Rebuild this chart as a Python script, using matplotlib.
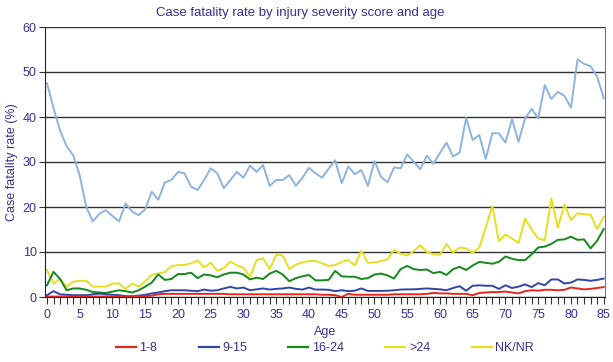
import matplotlib
matplotlib.use("Agg")
from matplotlib import pyplot as plt
from matplotlib.lines import Line2D
from matplotlib.ticker import MultipleLocator

plt.rcParams['font.family'] = ['Liberation Sans', 'DejaVu Sans']

# Case fatality rate (%) by age 0..85
ages = list(range(0, 86))

iss_1_8 = [0.1, 0.1, 0.1, 0.1, 0.1, 0.1, 0.1, 0.1, 0.1, 0.1,
           0.1, 0.1, 0.1, 0.1, 0.1, 0.2, 0.3, 0.6, 0.7, 0.7,
           0.7, 0.7, 0.7, 0.7, 0.7, 0.7, 0.7, 0.7, 0.6, 0.6,
           0.6, 0.6, 0.6, 0.6, 0.6, 0.6, 0.6, 0.6, 0.6, 0.6,
           0.6, 0.6, 0.5, 0.5, 0.4, 0.0, 0.7, 0.5, 0.5, 0.5,
           0.5, 0.5, 0.5, 0.6, 0.6, 0.6, 0.6, 0.6, 0.7, 0.9,
           0.8, 0.8, 0.7, 0.7, 0.7, 0.4, 0.9, 1.0, 1.1, 1.1,
           1.2, 1.0, 0.8, 1.3, 1.5, 1.4, 1.6, 1.6, 1.5, 1.6,
           2.1, 1.9, 1.7, 1.8, 2.0, 2.2]

iss_9_15 = [0.4, 1.3, 0.6, 0.5, 0.4, 0.4, 0.4, 0.6, 0.75, 0.6,
            0.5, 0.4, 0.2, 0.15, 0.3, 0.5, 0.8, 1.0, 1.3, 1.5,
            1.5, 1.5, 1.4, 1.3, 1.65, 1.4, 1.5, 1.9, 2.25, 1.9,
            2.1, 1.5, 1.7, 1.9, 1.65, 1.8, 1.9, 2.1, 1.8, 1.65,
            2.1, 1.65, 1.65, 1.6, 1.3, 1.5, 1.3, 1.4, 1.9, 1.35,
            1.35, 1.35, 1.4, 1.5, 1.65, 1.7, 1.7, 1.8, 1.9, 1.8,
            1.7, 1.5, 2.0, 2.4, 1.4, 2.5, 2.6, 2.5, 2.5, 1.8,
            2.6, 2.0, 2.3, 2.8, 2.2, 3.1, 2.6, 3.9, 3.9, 3.0,
            3.2, 3.9, 3.8, 3.6, 3.8, 4.1]

iss_16_24 = [2.6, 5.6, 4.0, 1.5, 1.9, 1.9, 1.6, 1.1, 1.0, 0.9,
             1.2, 1.5, 1.3, 1.0, 1.5, 2.3, 3.2, 5.0, 3.8, 4.0,
             5.1, 5.1, 5.4, 4.2, 5.0, 4.8, 4.4, 5.0, 5.4, 5.4,
             5.0, 3.9, 4.3, 4.0, 5.2, 5.8, 5.0, 3.5, 4.2, 4.6,
             4.9, 3.7, 3.7, 3.8, 5.8, 4.6, 4.5, 4.5, 4.0, 4.2,
             5.0, 5.2, 4.8, 4.1, 6.2, 6.9, 6.2, 6.0, 6.1, 5.3,
             5.6, 4.9, 6.2, 6.7, 6.0, 7.0, 7.8, 7.6, 7.4, 7.8,
             9.0, 8.5, 8.2, 8.2, 9.5, 11.0, 11.2, 11.8, 12.7, 12.8,
             13.4, 12.7, 12.8, 10.8, 12.5, 15.1]

iss_over_24 = [47.5, 42.0, 37.0, 33.5, 31.5, 27.0, 20.0, 16.8, 18.5, 19.3,
               18.0, 16.8, 20.8, 19.0, 18.2, 19.5, 23.4, 21.6, 25.5, 26.0,
               27.8, 27.5, 24.5, 23.8, 26.0, 28.6, 27.5, 24.2, 26.0, 27.8,
               26.5, 29.2, 27.8, 29.3, 24.7, 26.0, 26.0, 27.1, 24.7, 26.5,
               28.7, 27.5, 26.5, 28.5, 30.4, 25.3, 29.0, 27.3, 28.2, 24.7,
               30.2, 26.7, 25.5, 28.8, 28.6, 31.7, 30.0, 28.4, 31.4, 29.6,
               32.0, 34.3, 31.2, 32.1, 39.8, 34.9, 36.0, 30.7, 36.4, 36.4,
               34.3, 39.5, 34.5, 39.7, 41.8, 39.7, 47.1, 44.0, 45.6, 44.7,
               42.1, 52.8, 51.8, 51.3, 49.0, 44.2]

nk_nr = [6.0, 3.0, 4.0, 2.3, 3.4, 3.6, 3.6, 2.3, 2.3, 2.3,
         3.0, 3.0, 1.8, 3.0, 2.3, 3.5, 4.9, 5.2, 5.5, 6.8,
         7.1, 7.1, 7.5, 8.1, 6.6, 7.6, 5.8, 6.4, 7.9, 7.0,
         6.5, 4.5, 8.2, 8.6, 6.2, 9.4, 9.2, 6.2, 7.2, 7.7,
         8.0, 8.0, 7.5, 6.9, 7.1, 7.8, 8.2, 7.0, 10.3, 7.6,
         7.7, 8.0, 8.4, 10.5, 9.6, 9.2, 10.2, 11.5, 10.0, 9.5,
         9.4, 11.8, 9.9, 11.0, 10.8, 9.8, 11.0, 15.5, 20.2, 12.4,
         13.9, 13.0, 12.0, 17.4, 15.0, 13.0, 12.6, 21.9, 15.4, 20.6,
         17.1, 18.6, 18.4, 18.3, 15.1, 17.8]

legend_labels = ['1-8', '9-15', '16-24', '>24', 'NK/NR']
legend_colors = ['#e5281f', '#3346a8', '#15891c', '#e6e020', '#e6e020']

txt = '#3c2f94'

fig = plt.figure(figsize=(6.13, 3.62), dpi=100)
ax = fig.add_axes([45 / 613, 1 - 297 / 362, 560 / 613, 270 / 362])

ax.plot(ages, iss_over_24, color='#8fb3df', lw=1.4)
ax.plot(ages, nk_nr, color='#e6e020', lw=1.4)
ax.plot(ages, iss_16_24, color='#15891c', lw=1.4)
ax.plot(ages, iss_9_15, color='#3346a8', lw=1.4)
ax.plot(ages, iss_1_8, color='#e5281f', lw=1.4)

ax.set_xlim(-0.3, 85.2)
ax.set_ylim(0, 60)
ax.xaxis.set_major_locator(MultipleLocator(5))
ax.xaxis.set_minor_locator(MultipleLocator(1))
ax.yaxis.set_major_locator(MultipleLocator(10))
ax.tick_params(axis='x', which='both', length=5, width=0.8, color='#333333',
               labelcolor=txt, labelsize=9, pad=4)
ax.tick_params(axis='y', length=4, width=0.8, color='#333333',
               labelcolor=txt, labelsize=9, pad=2)
ax.grid(axis='y', color='#333333', lw=1.0)
ax.set_axisbelow(True)

for s in ['left', 'bottom']:
    ax.spines[s].set_color('#222222')
ax.spines['right'].set_color('#777777')
ax.spines['top'].set_visible(False)

ax.set_xlabel('Age', color=txt, fontsize=9, labelpad=3)
ax.set_ylabel('Case fatality rate (%)', color=txt, fontsize=9, labelpad=3)
fig.text(0.49, 0.955, 'Case fatality rate by injury severity score and age',
         color=txt, fontsize=9.5, ha='center')

handles = [Line2D([0], [0], color=c, lw=1.6) for c in legend_colors]
fig.legend(handles, legend_labels, loc='lower center', ncol=5,
           bbox_to_anchor=(0.53, -0.01), frameon=False, fontsize=9,
           labelcolor=txt, handlelength=1.6, handletextpad=0.3,
           columnspacing=3.3)

fig.savefig('out.png', dpi=100)
